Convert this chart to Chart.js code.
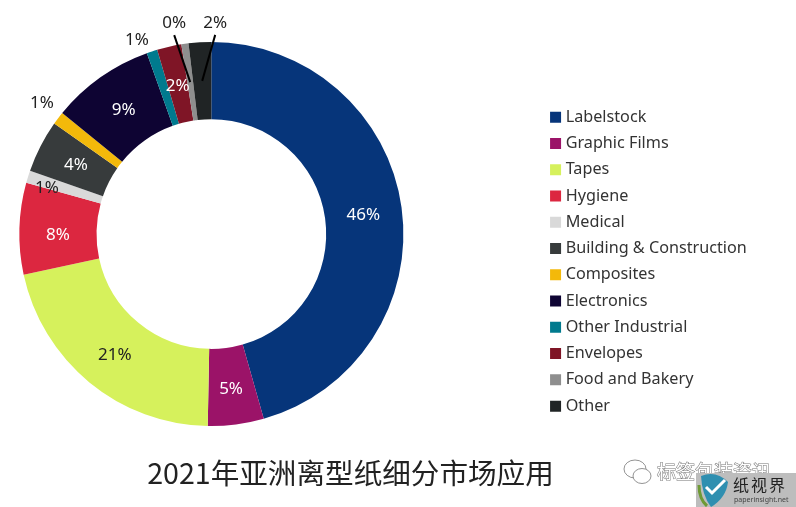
<!DOCTYPE html>
<html>
<head>
<meta charset="utf-8">
<style>
  html, body { margin: 0; padding: 0; background: #fff; }
  canvas { display: block; }
</style>
<script src="https://cdn.jsdelivr.net/npm/chart.js@4"></script>
</head>
<body>
<canvas id="paperChart" width="796" height="507"></canvas>
<script>
// --- chart data ---
const titleText = '2021年亚洲离型纸细分市场应用';
const categories = ['Labelstock', 'Graphic Films', 'Tapes', 'Hygiene', 'Medical', 'Building & Construction',
  'Composites', 'Electronics', 'Other Industrial', 'Envelopes', 'Food and Bakery', 'Other'];
const shares = [45.6, 4.7, 21.3, 7.7, 1.05, 4.4, 1.1, 8.7, 0.9, 2.05, 0.6, 1.9];
const shareLabels = ['46%', '5%', '21%', '8%', '1%', '4%', '1%', '9%', '1%', '2%', '0%', '2%'];
const sliceColors = ['#06357a', '#9b1368', '#d6f15c', '#dc2740', '#d9d9d9', '#373b3c',
  '#f3b90a', '#0e0433', '#007a8e', '#7f1526', '#8e8e8e', '#202425'];

// label styling per slice: text colour, shift from slice centre, leader line or not
const labelColors = ['#fff', '#fff', '#222', '#fff', '#222', '#fff', '#222', '#fff', '#222', '#fff', '#222', '#222'];
const labelShift = [[0, 2], [0, 3], [1, 3], [0, 5], [-18, 0], [1, 1], [-47, -38], [1, 1], [-27, -48], [0, 2], [-16, -59], [13, -58]];
const hasLeader = [false, false, false, false, false, false, false, false, false, false, true, true];

// move legend and title to where the reference has them, the layout can't do it
const placeBoxes = {
  id: 'placeBoxes',
  afterLayout(chart) {
    const legend = chart.legend;
    const h = legend.height;
    legend.left = 543.5;
    legend.right = 543.5 + legend.width;
    legend.top = 99;
    legend.bottom = 99 + h;
    const t = chart.titleBlock;
    t.left += 32.5;
    t.right += 32.5;
    t.top += 30;
    t.bottom += 30;
  }
};

// percent labels and the two leader lines
const sliceLabels = {
  id: 'sliceLabels',
  afterDatasetsDraw(chart) {
    const ctx = chart.ctx;
    const arcs = chart.getDatasetMeta(0).data;
    ctx.save();
    ctx.font = '17px "Noto Sans", sans-serif';
    ctx.textAlign = 'center';
    ctx.textBaseline = 'middle';
    arcs.forEach((arc, i) => {
      const c = arc.getCenterPoint();
      const x = c.x + labelShift[i][0];
      const y = c.y + labelShift[i][1];
      if (hasLeader[i]) {
        ctx.strokeStyle = '#000';
        ctx.lineWidth = 2;
        ctx.beginPath();
        ctx.moveTo(x, y + 12);
        ctx.lineTo(c.x, c.y);
        ctx.stroke();
      }
      ctx.fillStyle = labelColors[i];
      ctx.fillText(shareLabels[i], x, y);
    });
    ctx.restore();
  }
};

// watermark in the bottom right corner
const watermark = {
  id: 'watermark',
  afterDraw(chart) {
    const ctx = chart.ctx;
    ctx.save();
    // wechat icon
    ctx.strokeStyle = '#777';
    ctx.fillStyle = '#fff';
    ctx.lineWidth = 0.8;
    ctx.beginPath();
    ctx.ellipse(635, 469, 11, 9, 0, 0, Math.PI * 2);
    ctx.fill();
    ctx.stroke();
    ctx.beginPath();
    ctx.ellipse(642, 476, 9, 7.5, 0, 0, Math.PI * 2);
    ctx.fill();
    ctx.stroke();
    // account name
    ctx.font = '19px "Noto Sans CJK SC", sans-serif';
    ctx.textAlign = 'left';
    ctx.textBaseline = 'middle';
    ctx.fillStyle = '#fff';
    ctx.strokeStyle = '#777';
    ctx.lineWidth = 1;
    ctx.strokeText('标签包装资讯', 657, 472);
    ctx.fillText('标签包装资讯', 657, 472);
    // grey badge
    ctx.fillStyle = '#bdbdbd';
    ctx.fillRect(696, 473, 100, 34);
    ctx.fillStyle = '#2f8fb0';
    ctx.beginPath();
    ctx.moveTo(701, 476);
    ctx.quadraticCurveTo(716, 470, 728, 482);
    ctx.quadraticCurveTo(726, 498, 711, 507);
    ctx.quadraticCurveTo(702, 495, 701, 476);
    ctx.fill();
    ctx.strokeStyle = '#6f9a35';
    ctx.lineWidth = 3;
    ctx.beginPath();
    ctx.moveTo(699, 485);
    ctx.quadraticCurveTo(699, 499, 707, 506);
    ctx.stroke();
    ctx.strokeStyle = '#fff';
    ctx.lineWidth = 3;
    ctx.beginPath();
    ctx.moveTo(706, 487);
    ctx.lineTo(712, 493);
    ctx.lineTo(725, 480);
    ctx.stroke();
    ctx.fillStyle = '#222';
    ctx.font = '16px "Noto Sans CJK SC", sans-serif';
    ctx.letterSpacing = '2px';
    ctx.fillText('纸视界', 733, 485);
    ctx.letterSpacing = '0px';
    ctx.fillStyle = '#444';
    ctx.font = '7px "Noto Sans", sans-serif';
    ctx.fillText('paperinsight.net', 734, 500);
    ctx.restore();
  }
};

new Chart(document.getElementById('paperChart').getContext('2d'), {
  type: 'doughnut',
  data: {
    labels: categories,
    datasets: [{
      data: shares,
      backgroundColor: sliceColors,
      borderWidth: 0
    }]
  },
  options: {
    responsive: false,
    animation: false,
    cutout: '59.8%',
    layout: { padding: { left: 19, top: 42, right: 179, bottom: 46.6 } },
    plugins: {
      tooltip: { enabled: false },
      legend: {
        position: 'right',
        align: 'start',
        labels: {
          // small box with a thick border, keeps the text close to the swatch
          boxWidth: 4,
          boxHeight: 4,
          padding: 10.07,
          color: '#333',
          font: { family: '"Noto Sans", sans-serif', size: 16.2 },
          generateLabels(chart) {
            return Chart.overrides.doughnut.plugins.legend.labels.generateLabels(chart).map(item => {
              item.strokeStyle = item.fillStyle;
              item.lineWidth = 7;
              return item;
            });
          }
        }
      },
      title: {
        display: true,
        text: titleText,
        position: 'bottom',
        color: '#222',
        padding: 0,
        font: { family: '"Noto Sans CJK SC", sans-serif', size: 28.6, weight: 'normal' }
      }
    }
  },
  plugins: [placeBoxes, sliceLabels, watermark]
});
</script>
</body>
</html>
